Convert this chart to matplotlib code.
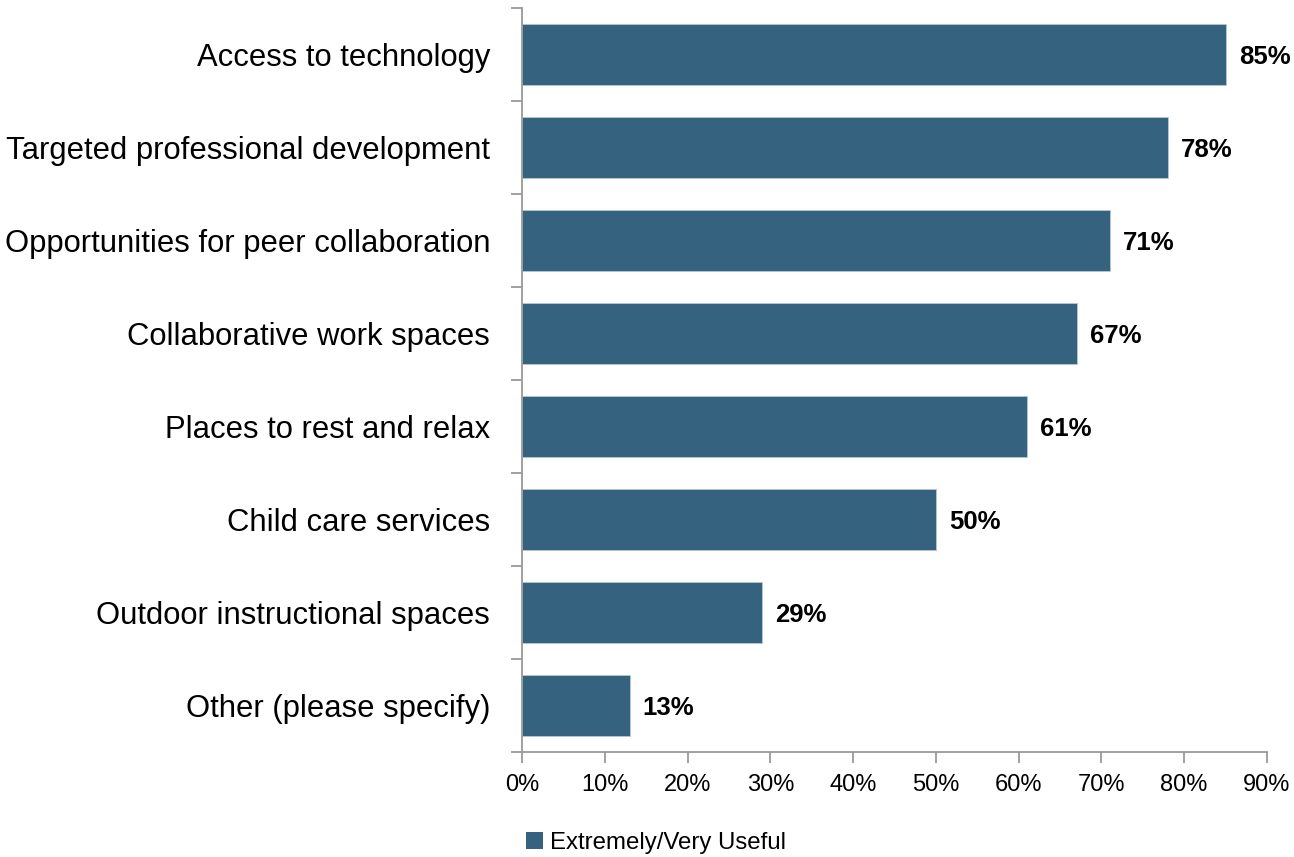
import matplotlib
matplotlib.use('Agg')
import matplotlib.pyplot as plt
from matplotlib import font_manager
from matplotlib.patches import Patch
import numpy as np

# font: condensed sans if available
names = {f.name for f in font_manager.fontManager.ttflist}
if 'Liberation Sans Narrow' in names:
    plt.rcParams['font.family'] = ['Liberation Sans Narrow', 'DejaVu Sans']
else:
    plt.rcParams['font.family'] = ['Liberation Sans', 'DejaVu Sans']

# data
categories = ['Access to technology', 'Targeted professional development',
              'Opportunities for peer collaboration', 'Collaborative work spaces',
              'Places to rest and relax', 'Child care services',
              'Outdoor instructional spaces', 'Other (please specify)']
values = [85, 78, 71, 67, 61, 50, 29, 13]
series_name = 'Extremely/Very Useful'
xticks = [0, 10, 20, 30, 40, 50, 60, 70, 80, 90]

bar_color = '#34627f'
spine_color = '#999999'

fig = plt.figure(figsize=(12.94, 8.57), dpi=100)
ax = fig.add_axes([0.4034, 0.1225, 0.5757, 0.8682])

y = np.arange(len(categories))
ax.barh(y, values, height=0.66, color=bar_color, edgecolor='#b8c8d4', linewidth=0.6)

for yi, v in zip(y, values):
    ax.text(v + 1.6, yi + 0.03, '%d%%' % v, va='center', ha='left',
            fontsize=18.5, fontweight='bold', color='black')

ax.set_xlim(0, 90)
ax.set_ylim(len(categories) - 0.5, -0.5)
ax.set_xticks(xticks)
ax.set_xticklabels(['%d%%' % t for t in xticks], fontsize=17)
ax.set_yticks(y)
ax.set_yticklabels(categories, fontsize=22.3)
ax.tick_params(axis='y', length=0, pad=23)
ax.set_yticks(np.arange(len(categories) + 1) - 0.5, minor=True)
ax.tick_params(axis='y', which='minor', length=8, color=spine_color, width=1.3)
ax.tick_params(axis='x', length=8, color=spine_color, width=1.3, pad=8)

for s in ['top', 'right']:
    ax.spines[s].set_visible(False)
for s in ['left', 'bottom']:
    ax.spines[s].set_color(spine_color)
    ax.spines[s].set_linewidth(1.3)

fig.legend(handles=[Patch(facecolor=bar_color, label=series_name)],
           loc='center', bbox_to_anchor=(0.507, 0.016), frameon=False,
           fontsize=17.3, handlelength=0.7, handleheight=0.7, handletextpad=0.3)

fig.savefig('out.png', dpi=100)
